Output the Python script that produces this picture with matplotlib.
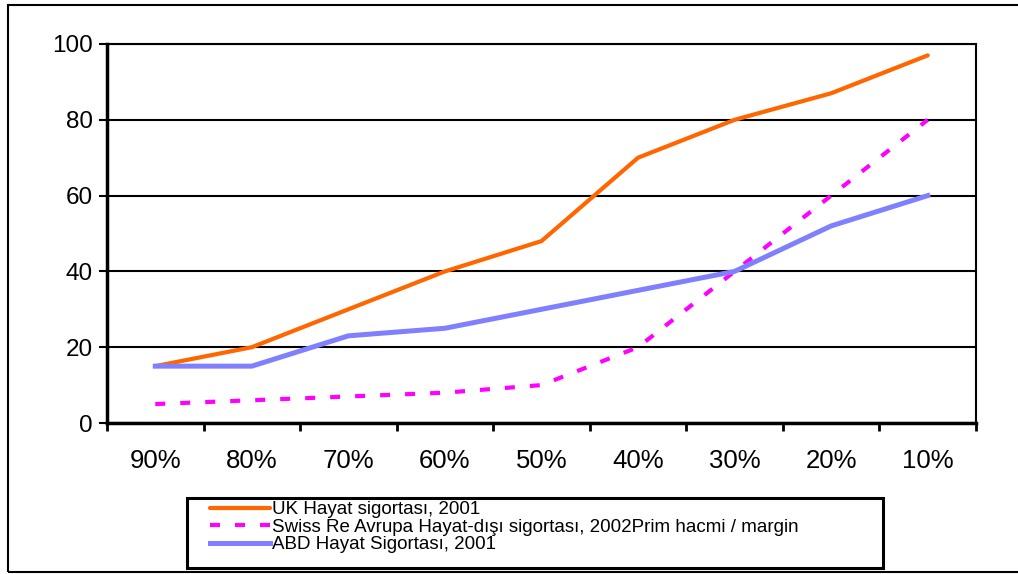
import matplotlib.pyplot as plt
from matplotlib.patches import Rectangle
import numpy as np

plt.rcParams['font.family'] = ['Liberation Sans', 'DejaVu Sans']

categories = ['90%', '80%', '70%', '60%', '50%', '40%', '30%', '20%', '10%']
uk_hayat = [15, 20, 30, 40, 48, 70, 80, 87, 97]
swiss_re = [5, 6, 7, 8, 10, 20, 40, 60, 80]
abd_hayat = [15, 15, 23, 25, 30, 35, 40, 52, 60]
labels = ['UK Hayat sigortası, 2001',
          'Swiss Re Avrupa Hayat-dışı sigortası, 2002Prim hacmi / margin',
          'ABD Hayat Sigortası, 2001']

W, H = 1018, 574
fig = plt.figure(figsize=(W / 100, H / 100), dpi=100)
ax = fig.add_axes([107 / W, 1 - 423 / H, (976 - 107) / W, (423 - 44) / H])

x = np.arange(len(categories)) + 0.5
l1, = ax.plot(x, uk_hayat, color='#FF6600', lw=3, solid_capstyle='round', zorder=3)
l2, = ax.plot(x, swiss_re, color='#FF00FF', lw=3, dashes=(2.4, 3.6), zorder=3)
l3, = ax.plot(x, abd_hayat, color='#8080FF', lw=3.6, zorder=3)

ax.set_xlim(0, len(categories))
ax.set_ylim(0, 100)
ax.set_yticks(range(0, 101, 20))
ax.set_xticks(range(0, len(categories) + 1))
ax.set_xticklabels([])
ax.set_xticks(x, minor=True)
ax.set_xticklabels(categories, minor=True)
ax.tick_params(axis='x', which='major', direction='out', length=6, width=2)
ax.tick_params(axis='x', which='minor', length=0, pad=19, labelsize=18.5)
ax.tick_params(axis='y', direction='out', length=6, width=1.5, pad=4, labelsize=17.5)
ax.yaxis.grid(True, color='black', lw=1.5)
ax.set_axisbelow(True)

for side in ['left', 'bottom']:
    ax.spines[side].set_linewidth(2.5)
for side in ['top', 'right']:
    ax.spines[side].set_linewidth(1.5)

# outer frame and legend box
fig.patches.append(Rectangle((8 / W, 1 - 572 / H), 1.2, (572 - 5) / H,
                             transform=fig.transFigure, fill=False,
                             edgecolor='black', lw=1.5))
fig.patches.append(Rectangle((187 / W, 1 - 568 / H), (883 - 187) / W, (568 - 498) / H,
                             transform=fig.transFigure, fill=False,
                             edgecolor='black', lw=2.2))

fig.legend([l1, l2, l3], labels, loc='upper left',
           bbox_to_anchor=(210 / W, 1 - 501 / H), frameon=False,
           fontsize=13.5, handlelength=3.2, handletextpad=0.12,
           labelspacing=0.02, borderpad=0, borderaxespad=0)

fig.savefig('out.png', dpi=100)
